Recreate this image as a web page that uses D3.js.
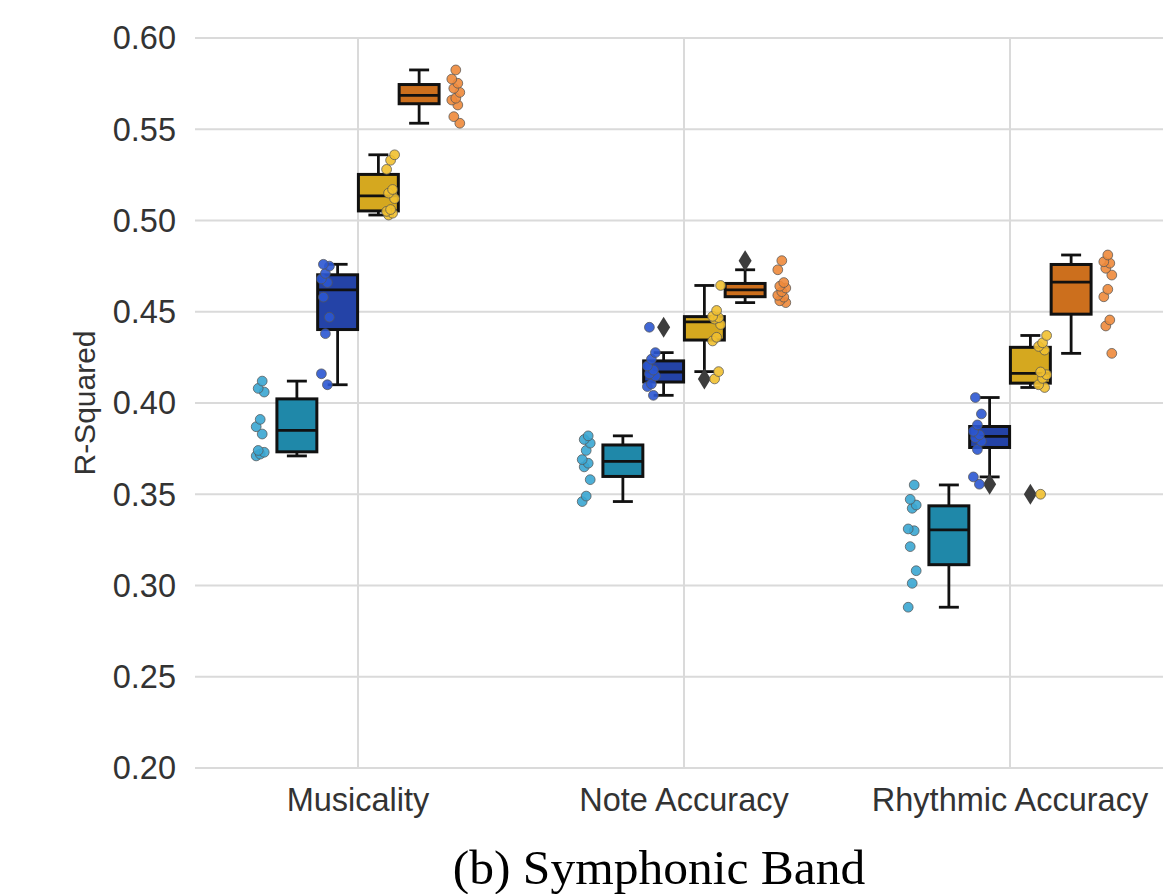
<!DOCTYPE html>
<html>
<head>
<meta charset="utf-8">
<script src="https://cdn.jsdelivr.net/npm/d3@7"></script>
<style>
body { margin: 0; background: #fff; }
</style>
</head>
<body>
<svg id="chart"></svg>
<script>
var categories = ["Musicality", "Note Accuracy", "Rhythmic Accuracy"];
var groups = ["g1", "g2", "g3", "g4"];
var boxColors = ["#1f88a9", "#2443a7", "#d5a81f", "#cc6f1d"];
var dotColors = ["#3aa6d1", "#2b57d2", "#f1c030", "#ee8a3b"];
var yTicks = [0.20, 0.25, 0.30, 0.35, 0.40, 0.45, 0.50, 0.55, 0.60];

// R-squared per fold, one array per group
var musicality = [
    [0.371, 0.372, 0.373, 0.374, 0.383, 0.387, 0.391, 0.406, 0.408, 0.412],
    [0.410, 0.416, 0.438, 0.447, 0.458, 0.466, 0.468, 0.471, 0.475, 0.476],
    [0.503, 0.504, 0.505, 0.506, 0.512, 0.515, 0.517, 0.528, 0.533, 0.536],
    [0.5533, 0.5569, 0.5633, 0.566, 0.567, 0.5702, 0.5724, 0.5752, 0.5775, 0.5825]
];
var noteAccuracy = [
    [0.346, 0.349, 0.358, 0.365, 0.367, 0.369, 0.374, 0.378, 0.380, 0.382],
    [0.4042, 0.409, 0.4104, 0.4148, 0.416, 0.418, 0.4203, 0.424, 0.4276, 0.4415],
    [0.4132, 0.4172, 0.434, 0.436, 0.443, 0.446, 0.4468, 0.4475, 0.4507, 0.4644],
    [0.455, 0.456, 0.458, 0.459, 0.461, 0.463, 0.464, 0.466, 0.473, 0.478]
];
var rhythmicAccuracy = [
    [0.2881, 0.3012, 0.3081, 0.3213, 0.3300, 0.3310, 0.3423, 0.3441, 0.3472, 0.3551],
    [0.3555, 0.3595, 0.3745, 0.379, 0.381, 0.3825, 0.3845, 0.388, 0.394, 0.403],
    [0.350, 0.4085, 0.410, 0.4135, 0.4155, 0.417, 0.429, 0.431, 0.433, 0.437],
    [0.4272, 0.4422, 0.4455, 0.4582, 0.4623, 0.4701, 0.4738, 0.4766, 0.4774, 0.4811]
];
var allData = [musicality, noteAccuracy, rhythmicAccuracy];

(function () {
var width = 1163, height = 894;
var plotLeft = 195, plotRight = 1173, plotTop = 38, plotBottom = 768;

var svg = d3.select("#chart")
    .attr("width", width)
    .attr("height", height);

var x = d3.scaleBand().domain(categories).range([plotLeft, plotRight]).padding(0);
var bw = x.bandwidth();
// box dodge and strip dodge use different widths
var xBox = d3.scaleBand().domain(groups).range([-0.25 * bw, 0.25 * bw]).padding(0);
var xDot = d3.scaleBand().domain(groups).range([-0.4 * bw, 0.4 * bw]).padding(0);
var y = d3.scaleLinear().domain([0.20, 0.60]).range([plotBottom, plotTop]);

var font = "'Liberation Sans', Arial, sans-serif";

// grid
svg.append("g").selectAll("line")
    .data(yTicks).enter().append("line")
    .attr("x1", plotLeft).attr("x2", width)
    .attr("y1", d => y(d)).attr("y2", d => y(d))
    .attr("stroke", "#dadada").attr("stroke-width", 2);
svg.append("g").selectAll("line")
    .data(categories).enter().append("line")
    .attr("x1", d => x(d) + bw / 2).attr("x2", d => x(d) + bw / 2)
    .attr("y1", plotTop).attr("y2", plotBottom)
    .attr("stroke", "#dadada").attr("stroke-width", 2);

// y tick labels
svg.append("g").selectAll("text")
    .data(yTicks).enter().append("text")
    .attr("x", 176).attr("y", d => y(d))
    .attr("dy", "0.35em")
    .attr("text-anchor", "end")
    .style("font-family", font).style("font-size", "32.5px").attr("fill", "#333")
    .text(d => d3.format(".2f")(d));

// x tick labels
svg.append("g").selectAll("text")
    .data(categories).enter().append("text")
    .attr("x", d => x(d) + bw / 2).attr("y", 811)
    .attr("text-anchor", "middle")
    .style("font-family", font).style("font-size", "32.5px").attr("fill", "#333")
    .text(d => d);

// y axis title
svg.append("text")
    .attr("transform", "translate(95," + ((plotTop + plotBottom) / 2) + ") rotate(-90)")
    .attr("text-anchor", "middle")
    .style("font-family", font).style("font-size", "30px").attr("fill", "#333")
    .text("R-Squared");

// caption
svg.append("text")
    .attr("x", 659).attr("y", 884)
    .attr("text-anchor", "middle")
    .style("font-family", "'Liberation Serif', 'Times New Roman', serif")
    .style("font-size", "49.5px").attr("fill", "#000")
    .text("(b) Symphonic Band");

function boxStats(values) {
    var v = values.slice().sort(d3.ascending);
    var q1 = d3.quantile(v, 0.25), med = d3.quantile(v, 0.5), q3 = d3.quantile(v, 0.75);
    var iqr = q3 - q1;
    var inside = v.filter(d => d >= q1 - 1.5 * iqr && d <= q3 + 1.5 * iqr);
    return {
        q1: q1, med: med, q3: q3,
        lo: d3.min(inside), hi: d3.max(inside),
        out: v.filter(d => d < q1 - 1.5 * iqr || d > q3 + 1.5 * iqr)
    };
}

var lw = 2.8;
var boxW = xBox.bandwidth() * 0.98;
var boxes = svg.append("g");
categories.forEach(function (cat, ci) {
    groups.forEach(function (g, gi) {
        var s = boxStats(allData[ci][gi]);
        var cx = x(cat) + bw / 2 + xBox(g) + xBox.bandwidth() / 2;
        var b = boxes.append("g");
        b.append("line").attr("x1", cx).attr("x2", cx)
            .attr("y1", y(s.hi)).attr("y2", y(s.lo))
            .attr("stroke", "#111").attr("stroke-width", lw);
        [s.hi, s.lo].forEach(function (v) {
            b.append("line").attr("x1", cx - boxW / 4).attr("x2", cx + boxW / 4)
                .attr("y1", y(v)).attr("y2", y(v))
                .attr("stroke", "#111").attr("stroke-width", lw);
        });
        b.append("rect")
            .attr("x", cx - boxW / 2).attr("width", boxW)
            .attr("y", y(s.q3)).attr("height", y(s.q1) - y(s.q3))
            .attr("fill", boxColors[gi])
            .attr("stroke", "#111").attr("stroke-width", lw + 0.2);
        b.append("line").attr("x1", cx - boxW / 2).attr("x2", cx + boxW / 2)
            .attr("y1", y(s.med)).attr("y2", y(s.med))
            .attr("stroke", "#111").attr("stroke-width", lw);
        b.selectAll("path").data(s.out).enter().append("path")
            .attr("d", "M0,-10.5L6.5,0L0,10.5L-6.5,0Z")
            .attr("transform", d => "translate(" + cx + "," + y(d) + ")")
            .attr("fill", "#3d3d3d");
    });
});

// strip points with a small fixed jitter
var dots = svg.append("g");
categories.forEach(function (cat, ci) {
    groups.forEach(function (g, gi) {
        var cx = x(cat) + bw / 2 + xDot(g) + xDot.bandwidth() / 2;
        dots.selectAll(null).data(allData[ci][gi]).enter().append("circle")
            .attr("cx", (d, i) => cx + (((i * 7 + gi * 3) % 5) - 2) * 2)
            .attr("cy", d => y(d))
            .attr("r", 4.9)
            .attr("fill", dotColors[gi])
            .attr("fill-opacity", 0.9)
            .attr("stroke", "#555")
            .attr("stroke-opacity", 0.75)
            .attr("stroke-width", 1);
    });
});
})();
</script>
</body>
</html>
